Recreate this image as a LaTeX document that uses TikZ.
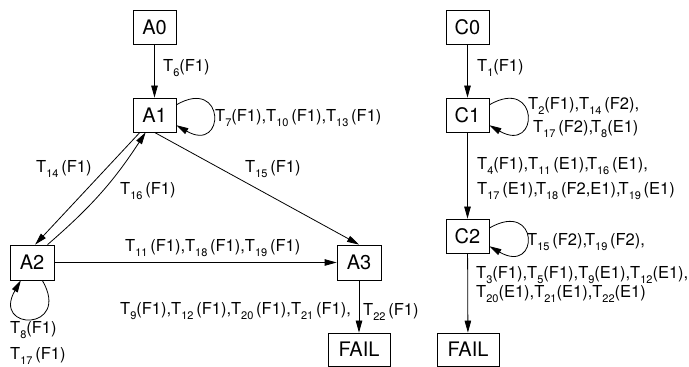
\documentclass[tikz,border=0pt]{standalone}
\usepackage{fontspec}
\setmainfont{TeX Gyre Heros}
\usetikzlibrary{arrows.meta}
% transition with a lowered index
\newcommand\tsub[1]{\raisebox{-4.5pt}{\fontsize{11}{12}\selectfont #1}}
\newcommand\tr[1]{T\tsub{#1}}
\begin{document}
\begin{tikzpicture}[x=1pt,y=1pt,
  state/.style={draw, line width=0.8pt, minimum width=43pt, minimum height=34pt,
    inner sep=0pt, font=\fontsize{20}{24}\selectfont},
  failbox/.style={state, minimum width=62pt, minimum height=33pt},
  lbl/.style={anchor=base west, inner sep=0pt, font=\fontsize{16.5}{19}\selectfont},
  arc/.style={line width=0.8pt, -{Triangle[length=12pt,width=6.5pt]}},
]
\useasboundingbox (0,0) rectangle (689,367);

% left machine
\node[state] (a0) at (154.5,340) {A0};
\node[state] (a1) at (154.5,252) {A1};
\node[state, minimum width=44pt, minimum height=35pt] (a2) at (32,104.5) {A2};
\node[state, minimum width=44pt, minimum height=35pt] (a3) at (359,104.5) {A3};
\node[failbox] (faila) at (359,17.5) {FAIL};

\draw[arc] (a0) -- (a1);
\draw[arc] (a1.25) .. controls +(30:57) and +(-30:57) .. (a1.-25);
\draw[arc] (a1.230) -- (a2.80);
\draw[arc] (a2.49) to[bend right=8] (a1.243);
\draw[arc] (a1.south) -- (a3.north);
\draw[arc] (a2) -- (a3);
\draw[arc] (a2.-60) .. controls +(-60:59) and +(-120:59) .. (a2.-122);
\draw[arc] (a3) -- (faila);

\node[lbl] (l6) at (163,295) {\tr{6}(F1)};
\node[lbl] (l7) at (215,245) {\tr{7}(F1),\tr{10}\,(F1),\tr{13}\,(F1)};
\node[lbl] (l14) at (36,194) {\tr{14}\,(F1)};
\node[lbl] (l15) at (245,194) {\tr{15}\,(F1)};
\node[lbl] (l16) at (120,172) {\tr{16}\,(F1)};
\node[lbl] (l11) at (125,115) {\tr{11}\,(F1),\tr{18}\,(F1),\tr{19}\,(F1)};
\node[lbl] (l9) at (120,52) {\tr{9}(F1),\tr{12}\,(F1),\tr{20}\,(F1),\tr{21}\,(F1),};
\node[lbl] (l22) at (363,51) {\tr{22}\,(F1)};
\node[lbl] (l8) at (10,33) {\tr{8}(F1)};
\node[lbl] (l17) at (10,7) {\tr{17}\,(F1)};

% right machine
\node[state] (c0) at (467.5,340) {C0};
\node[state] (c1) at (467.5,252) {C1};
\node[state] (c2) at (467.5,131) {C2};
\node[failbox] (failc) at (468,17.5) {FAIL};

\draw[arc] (c0) -- (c1);
\draw[arc] (c1.25) .. controls +(30:58) and +(-30:58) .. (c1.-25);
\draw[arc] (c1) -- (c2);
\draw[arc] (c2.20) .. controls +(30:58) and +(-30:58) .. (c2.-25);
\draw[arc] (c2) -- (failc);

\node[lbl] (k1) at (477,295) {\tr{1}(F1)};
\node[lbl] (k2) at (528,257) {\tr{2}(F1),\tr{14}\,(F2),};
\node[lbl] (k3) at (533,234) {\tr{17}\,(F2),\kern-2pt\tr{8}(E1)};
\node[lbl] (k4) at (477,197) {\tr{4}(F1),\tr{11}\,(E1),\kern-2pt\tr{16}\,(E1),};
\node[lbl] (k5) at (477,172) {\tr{17}\,(E1),\kern-2pt\tr{18}\,(F2,E1),\kern-2pt\tr{19}\,(E1)};
\node[lbl] (k6) at (527,121) {\tr{15}\,(F2),\kern-2pt\tr{19}\,(F2),};
\node[lbl] (k7) at (476,88) {\tr{3}(F1),\tr{5}(F1),\tr{9}(E1),\tr{12}(E1),};
\node[lbl] (k8) at (476,69) {\tr{20}(E1),\tr{21}(E1),\tr{22}(E1)};
\end{tikzpicture}
\end{document}
